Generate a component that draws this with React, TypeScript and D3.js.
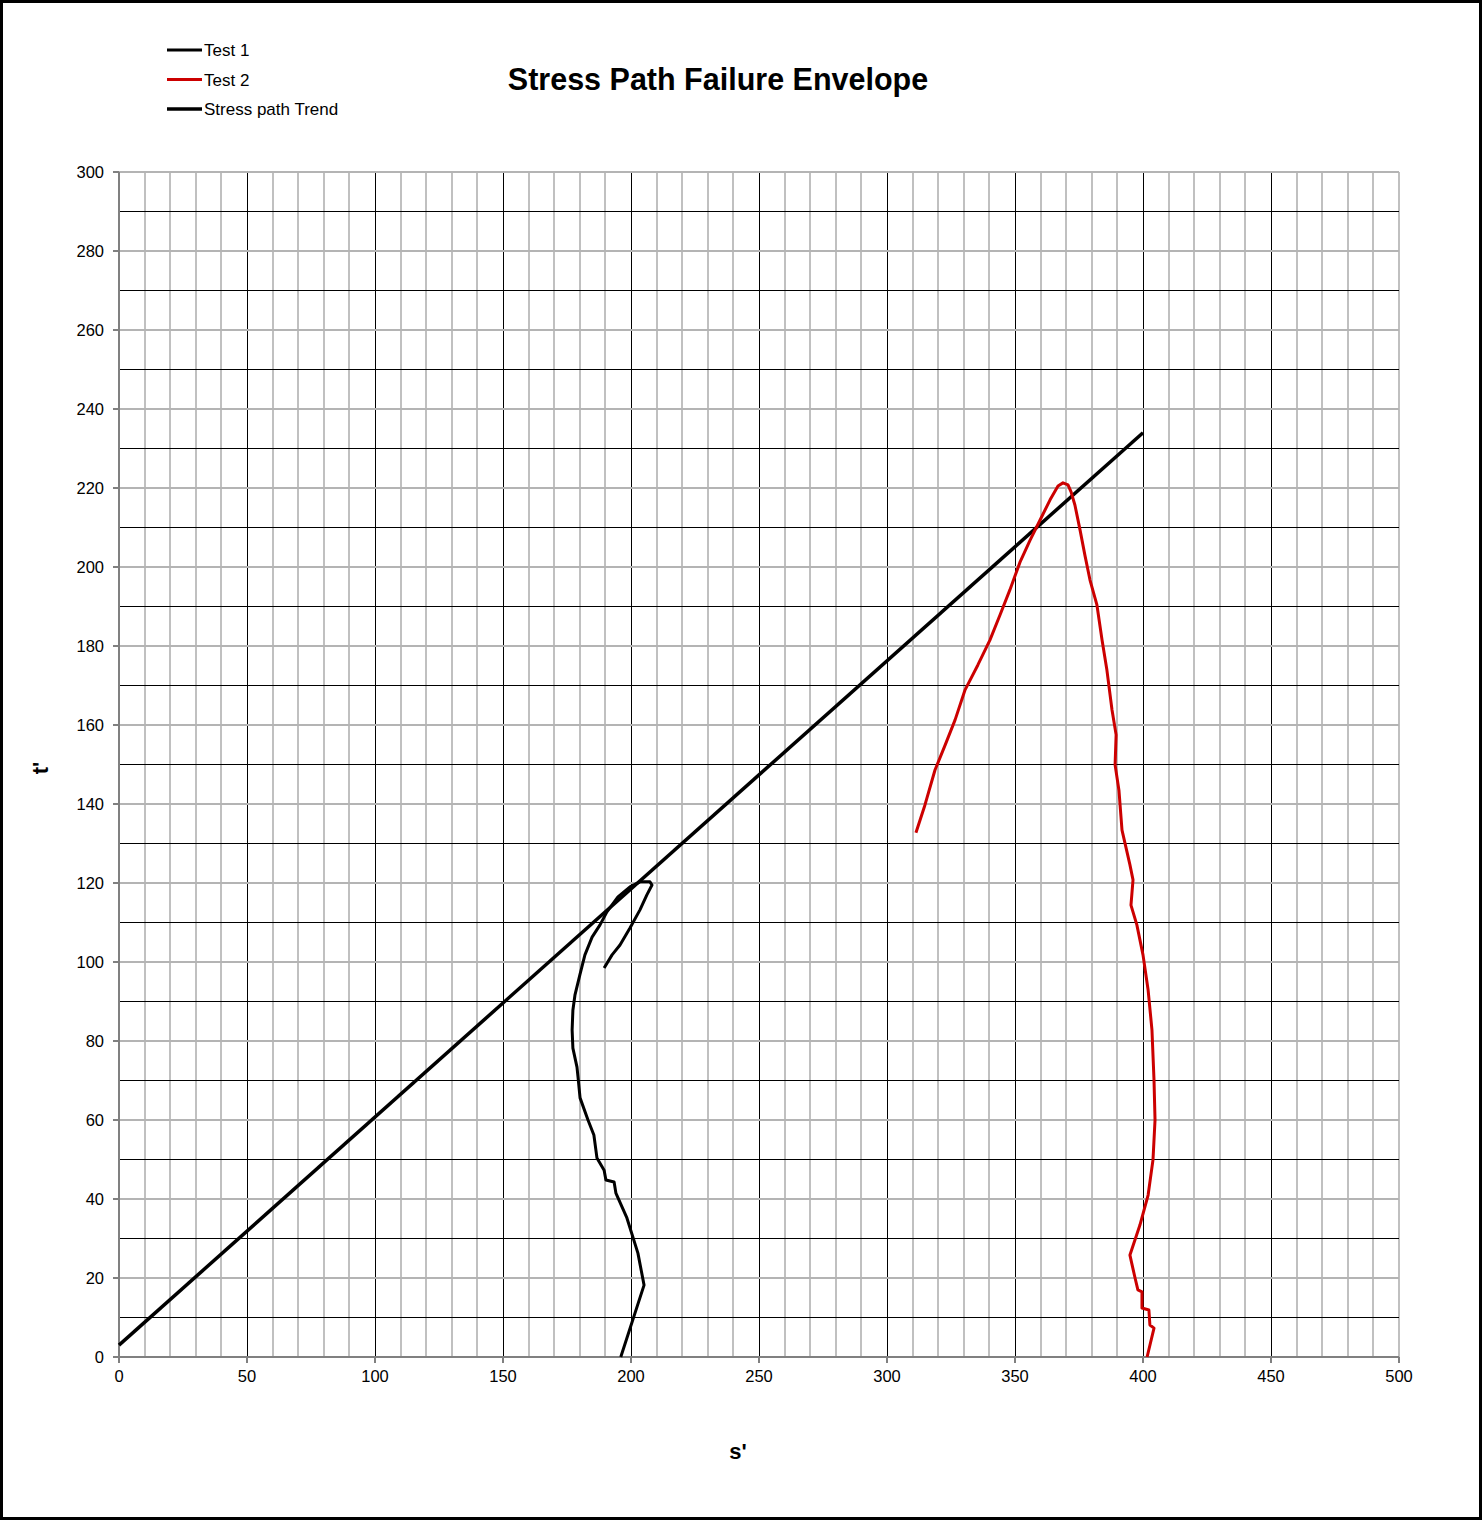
import React from 'react';
import * as d3 from 'd3';

const W = 1483;
const H = 1520;
const margin = { top: 172, right: 84, bottom: 163, left: 119 };
const plotW = W - margin.left - margin.right;
const plotH = H - margin.top - margin.bottom;

// s' / t' readings
const test1S = [196, 205.1, 202.7, 198.4, 194.1, 193.4, 190.2, 189.5, 186.7, 185.5, 183.2, 180.1, 179.3, 178.9, 177.3, 177, 177.3, 178.1, 180, 182, 184.8, 187.9, 190.6, 194.9, 199.6, 203.5, 207.4, 208.2, 206.2, 203.5, 199.6, 195.7, 192.6, 189.5];
const test1T = [0, 18.2, 26.3, 35.2, 41.5, 44.3, 44.8, 47.3, 50.4, 56.2, 60, 65.6, 70.9, 73.4, 78.2, 82.8, 87.8, 91.6, 96.7, 101.8, 106.3, 109.4, 112.7, 116.5, 119, 120.3, 120.3, 119.5, 117, 113.2, 108.6, 104.3, 101.8, 98.5];

const test2S = [401.6, 404.3, 402.7, 402.3, 399.6, 399.6, 398, 396.9, 395.5, 394.9, 398.8, 402, 403.9, 404.7, 404.3, 403.5, 402, 400, 397.6, 395.3, 396.1, 394.9, 391.8, 390.6, 389.1, 389.5, 387.9, 385.9, 384, 382, 379.3, 377.3, 375.4, 373.4, 371.9, 370.7, 368.75, 366.8, 363.7, 359.8, 355.9, 352, 348, 344.1, 340.2, 335.5, 330.5, 326.6, 322.7, 318.75, 314.8, 311.3];
const test2T = [0, 7.3, 8.1, 11.9, 12.4, 16.5, 17, 20, 24, 25.8, 33.4, 41, 49.9, 60, 70.1, 82.8, 92.9, 101.8, 109.4, 114.4, 120.8, 124.6, 133.4, 143.5, 149.9, 157.5, 163.8, 173.9, 181.5, 190.4, 196.7, 203, 209.4, 215.7, 219, 220.8, 221.3, 220.5, 217, 211.9, 206.8, 201.3, 194.2, 187.8, 181.5, 175.2, 168.9, 161.3, 154.9, 148.6, 139.7, 132.7];

const trendS = [0, 400];
const trendT = [3, 234];

const xTicks = [0, 50, 100, 150, 200, 250, 300, 350, 400, 450, 500];
const yTicks = [0, 20, 40, 60, 80, 100, 120, 140, 160, 180, 200, 220, 240, 260, 280, 300];

const legendItems = [
  { label: 'Test 1', color: '#000000', width: 3 },
  { label: 'Test 2', color: '#cc0000', width: 3 },
  { label: 'Stress path Trend', color: '#000000', width: 3.5 },
];

const font = '"Liberation Sans", Arial, sans-serif';

export default function App() {
  const x = d3.scaleLinear().domain([0, 500]).range([0, plotW]);
  const y = d3.scaleLinear().domain([0, 300]).range([plotH, 0]);

  const line = d3
    .line<[number, number]>()
    .x(d => x(d[0]))
    .y(d => y(d[1]));

  const zip = (a: number[], b: number[]) => a.map((v, i) => [v, b[i]] as [number, number]);

  const vGrid = d3.range(10, 501, 10);
  const hGrid = d3.range(10, 301, 10);

  return (
    <svg width={W} height={H} style={{ position: 'absolute', left: 0, top: 0, background: '#fff' }} fontFamily={font}>
      <rect x={1.5} y={1.5} width={W - 4} height={H - 3} fill="#fff" stroke="#000" strokeWidth={3} />

      <text x={718} y={90} textAnchor="middle" fontSize={30.5} fontWeight="bold">Stress Path Failure Envelope</text>

      {legendItems.map((d, i) => (
        <g key={d.label} transform={`translate(167, ${50 + i * 29.5})`}>
          <line x1={0} x2={35} y1={0} y2={0} stroke={d.color} strokeWidth={d.width} />
          <text x={37} y={6} fontSize={17}>{d.label}</text>
        </g>
      ))}

      <g transform={`translate(${margin.left}, ${margin.top})`}>
        {vGrid.map(v => (
          <line key={'v' + v} x1={x(v)} x2={x(v)} y1={0} y2={plotH} shapeRendering="crispEdges"
            stroke={v % 50 === 0 && v !== 500 ? '#000' : '#c0c0c0'} strokeWidth={v % 50 === 0 && v !== 500 ? 1 : 2} />
        ))}
        {hGrid.map(v => (
          <line key={'h' + v} x1={0} x2={plotW} y1={y(v)} y2={y(v)} shapeRendering="crispEdges"
            stroke={v % 20 === 0 ? '#b4b4b4' : '#000'} strokeWidth={v % 20 === 0 ? 2 : 1} />
        ))}

        {/* axes */}
        <line x1={0} x2={0} y1={0} y2={plotH} stroke="#808080" strokeWidth={2} shapeRendering="crispEdges" />
        <line x1={0} x2={plotW} y1={plotH} y2={plotH} stroke="#808080" strokeWidth={2} shapeRendering="crispEdges" />
        {yTicks.map(v => (
          <g key={'yt' + v}>
            <line x1={-6} x2={0} y1={y(v)} y2={y(v)} stroke="#808080" strokeWidth={2} shapeRendering="crispEdges" />
            <text x={-15} y={y(v) + 6} textAnchor="end" fontSize={16.5}>{v}</text>
          </g>
        ))}
        {xTicks.map(v => (
          <g key={'xt' + v}>
            <line x1={x(v)} x2={x(v)} y1={plotH} y2={plotH + 6} stroke="#808080" strokeWidth={2} shapeRendering="crispEdges" />
            <text x={x(v)} y={plotH + 25} textAnchor="middle" fontSize={16.5}>{v}</text>
          </g>
        ))}

        <path d={line(zip(trendS, trendT)) || ''} fill="none" stroke="#000" strokeWidth={3.5} />
        <path d={line(zip(test1S, test1T)) || ''} fill="none" stroke="#000" strokeWidth={3} strokeLinejoin="round" />
        <path d={line(zip(test2S, test2T)) || ''} fill="none" stroke="#cc0000" strokeWidth={3} strokeLinejoin="round" />
      </g>

      <text x={738} y={1459} textAnchor="middle" fontSize={22} fontWeight="bold">s'</text>
      <text transform="translate(48, 768) rotate(-90)" textAnchor="middle" fontSize={22} fontWeight="bold">t'</text>
    </svg>
  );
}
